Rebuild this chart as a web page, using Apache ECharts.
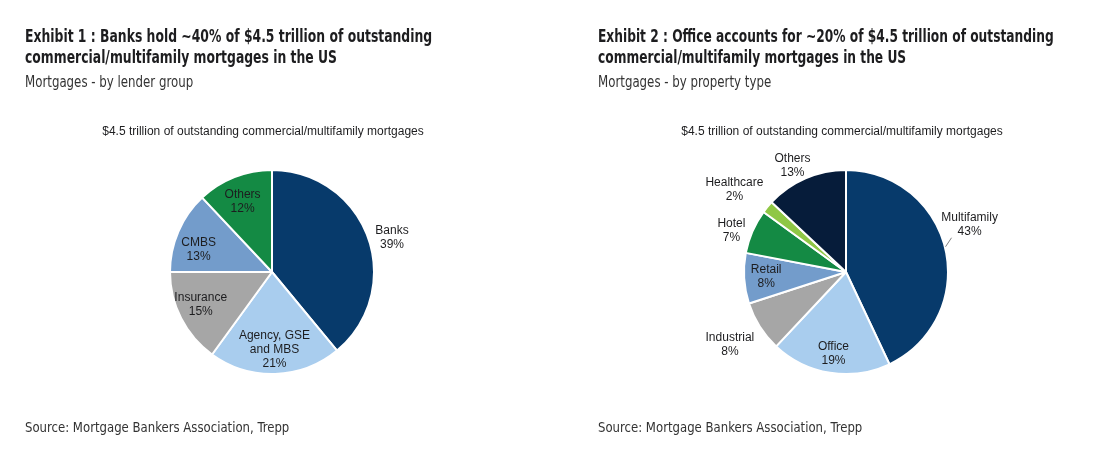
<!DOCTYPE html>
<html>
<head>
<meta charset="utf-8">
<script src="https://cdn.jsdelivr.net/npm/echarts@6/dist/echarts.min.js"></script>
<style>
html,body{margin:0;padding:0;background:#fff;}
#c{width:1100px;height:455px;}
</style>
</head>
<body>
<div id="c"></div>
<script>
// ---- data ----
const lenderNames = ['Banks', 'Agency, GSE\nand MBS', 'Insurance', 'CMBS', 'Others'];
const lenderValues = [39, 21, 15, 13, 12];
const propertyNames = ['Multifamily', 'Office', 'Industrial', 'Retail', 'Hotel', 'Healthcare', 'Others'];
const propertyValues = [43, 19, 8, 8, 7, 2, 13];

const lenderColors = ['#073a6b', '#a9cdee', '#a6a6a6', '#739ccb', '#148a44'];
const propertyColors = ['#073a6b', '#a9cdee', '#a6a6a6', '#739ccb', '#148a44', '#8fc745', '#061c3a'];

// label placement styling (which labels sit outside, and small nudges)
const lenderLabelTweaks = {0: {out: true, dx: 19, dy: 0}, 2: {dy: -4}, 3: {dy: 9}, 4: {dy: 4}, 1: {dy: -2}};
const propertyLabelTweaks = {
  0: {out: true, dx: 19, dy: -25, line: true},
  1: {dy: 3},
  2: {out: true, dx: -25, dy: 18},
  4: {out: true, dx: -16, dy: -1},
  5: {out: true, dx: -28, dy: -17},
  6: {out: true, dx: -8, dy: -13}
};

const titleFont = '"DejaVu Sans Condensed", "Liberation Sans", sans-serif';
const labelFont = '"Liberation Sans", Arial, sans-serif';
const textColor = '#1d1d1f';

function baseData(names, values, colors) {
  return names.map((n, i) => ({name: n, value: values[i], itemStyle: {color: colors[i]}}));
}
function labelData(names, values, tweaks) {
  return names.map((n, i) => {
    const o = tweaks[i];
    const item = {name: n, value: values[i]};
    if (o && o.out) {
      item.label = {position: 'outside'};
      item.labelLine = o.line ? {show: true, length: 0, length2: 0, lineStyle: {color: '#7f7f7f', width: 1}}
                              : {show: false, length: 0, length2: 0};
    }
    return item;
  });
}
function makeLayout(tweaks) {
  return function (p) {
    const o = tweaks[p.dataIndex];
    if (!o) return {};
    const res = {dx: o.dx || 0, dy: o.dy || 0};
    if (o.out) res.align = 'center';
    if (o.line && p.labelLinePoints) {
      const s = p.labelLinePoints[0];
      res.labelLinePoints = [[s[0], s[1] - 3], [s[0] + 6, s[1] - 12]];
    }
    return res;
  };
}
function pies(center, names, values, colors, tweaks) {
  return [
    {
      type: 'pie', center: center, radius: [0, 102], startAngle: 90, clockwise: true,
      silent: true, animation: false,
      label: {show: false}, labelLine: {show: false},
      itemStyle: {borderColor: '#ffffff', borderWidth: 2},
      data: baseData(names, values, colors)
    },
    {
      type: 'pie', center: center, radius: [52, 102], startAngle: 90, clockwise: true,
      silent: true, animation: false, avoidLabelOverlap: false, z: 3,
      itemStyle: {color: 'rgba(0,0,0,0)', borderWidth: 0},
      label: {
        show: true, position: 'inside', fontFamily: labelFont, fontSize: 12,
        lineHeight: 14, color: textColor, distanceToLabelLine: 5,
        formatter: p => p.name + '\n' + p.value + '%'
      },
      labelLine: {show: false},
      labelLayout: makeLayout(tweaks),
      data: labelData(names, values, tweaks)
    }
  ];
}

function txt(x, y, text, size, weight, sx, color, align) {
  return {
    type: 'text', x: x, y: y, scaleX: sx, silent: true,
    style: {
      text: text, fill: color, textAlign: align || 'left', textVerticalAlign: 'top',
      font: weight + ' ' + size + 'px ' + (align === 'center' ? labelFont : titleFont),
      lineHeight: 21
    }
  };
}

const chart = echarts.init(document.getElementById('c'), null, {renderer: 'canvas'});
chart.setOption({
  backgroundColor: '#ffffff',
  animation: false,
  graphic: [
    txt(25, 27, 'Exhibit 1 : Banks hold ~40% of $4.5 trillion of outstanding\ncommercial/multifamily mortgages in the US', 17, 'bold', 0.81, textColor),
    txt(25, 73, 'Mortgages - by lender group', 15, 'normal', 0.875, '#333'),
    txt(25, 418, 'Source: Mortgage Bankers Association, Trepp', 14, 'normal', 0.93, '#333'),
    txt(598, 27, 'Exhibit 2 : Office accounts for ~20% of $4.5 trillion of outstanding\ncommercial/multifamily mortgages in the US', 17, 'bold', 0.80, textColor),
    txt(598, 73, 'Mortgages - by property type', 15, 'normal', 0.875, '#333'),
    txt(598, 418, 'Source: Mortgage Bankers Association, Trepp', 14, 'normal', 0.93, '#333')
  ],
  title: [
    {text: '$4.5 trillion of outstanding commercial/multifamily mortgages', left: 258, textAlign: 'center', top: 121,
     textStyle: {fontFamily: labelFont, fontSize: 12, fontWeight: 'normal', color: textColor}},
    {text: '$4.5 trillion of outstanding commercial/multifamily mortgages', left: 837, textAlign: 'center', top: 121,
     textStyle: {fontFamily: labelFont, fontSize: 12, fontWeight: 'normal', color: textColor}}
  ],
  series: [].concat(
    pies([272, 272], lenderNames, lenderValues, lenderColors, lenderLabelTweaks),
    pies([846, 272], propertyNames, propertyValues, propertyColors, propertyLabelTweaks)
  )
});
</script>
</body>
</html>
